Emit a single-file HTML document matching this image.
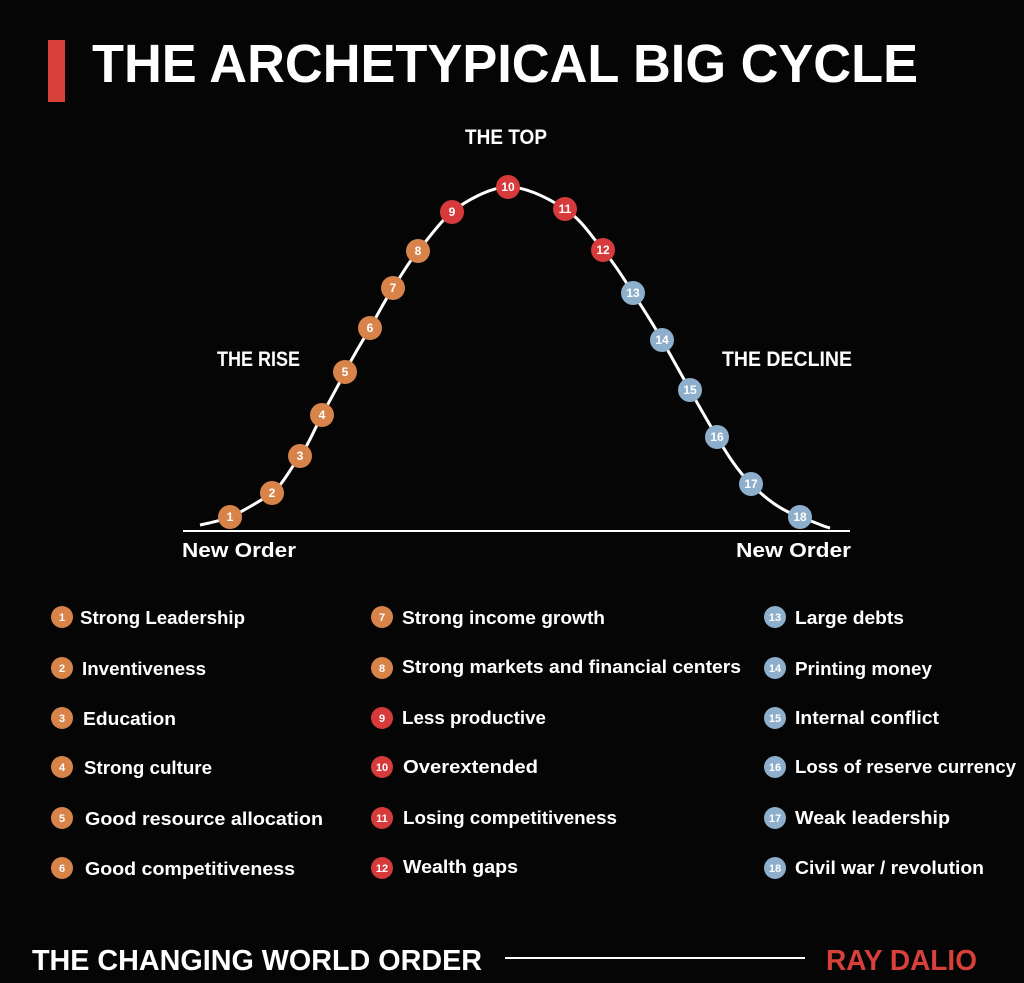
<!DOCTYPE html>
<html><head><meta charset="utf-8"><style>
html,body{margin:0;padding:0;background:#050505;}
svg{display:block;}
text{font-family:"Liberation Sans",sans-serif;}
</style></head><body>
<svg width="1024" height="983" viewBox="0 0 1024 983" xmlns="http://www.w3.org/2000/svg">
<rect width="1024" height="983" fill="#050505"/>
<rect x="48" y="40" width="17" height="62" fill="#d8403a"/>
<text x="92" y="82" font-size="54" font-weight="bold" fill="#fff" textLength="826" lengthAdjust="spacingAndGlyphs">THE ARCHETYPICAL BIG CYCLE</text>
<text x="506" y="144" font-size="21" font-weight="bold" fill="#fff" text-anchor="middle" textLength="82" lengthAdjust="spacingAndGlyphs">THE TOP</text>
<text x="217" y="366" font-size="21" font-weight="bold" fill="#fff" textLength="83" lengthAdjust="spacingAndGlyphs">THE RISE</text>
<text x="722" y="366" font-size="21" font-weight="bold" fill="#fff" textLength="130" lengthAdjust="spacingAndGlyphs">THE DECLINE</text>
<line x1="183" y1="531" x2="850" y2="531" stroke="#fff" stroke-width="2"/>
<text x="182" y="557" font-size="20" font-weight="bold" fill="#fff" textLength="114" lengthAdjust="spacingAndGlyphs">New Order</text>
<text x="736" y="557" font-size="20" font-weight="bold" fill="#fff" textLength="115" lengthAdjust="spacingAndGlyphs">New Order</text>
<path d="M200,525 C215,522 222,520 230,517 S262,500 272,493 S292,466 300,456 S315,428 322,415 S338,386 345,372 S362,342 370,328 S385,300 393,288 S408,263 418,251 S440,222 452,212 S490,187 508,187 S548,198 565,209 S592,237 603,250 S622,276 633,293 S652,322 662,340 S680,372 690,390 S707,420 717,437 S737,470 751,484 S780,510 800,517 S822,526 830,528" fill="none" stroke="#fff" stroke-width="3"/>
<g font-size="12" font-weight="bold" fill="#fff" text-anchor="middle">
<g fill="#d8834a">
<circle cx="230" cy="517" r="12"/><circle cx="272" cy="493" r="12"/><circle cx="300" cy="456" r="12"/><circle cx="322" cy="415" r="12"/><circle cx="345" cy="372" r="12"/><circle cx="370" cy="328" r="12"/><circle cx="393" cy="288" r="12"/><circle cx="418" cy="251" r="12"/>
</g>
<g fill="#d63a3a"><circle cx="452" cy="212" r="12"/><circle cx="508" cy="187" r="12"/><circle cx="565" cy="209" r="12"/><circle cx="603" cy="250" r="12"/></g>
<g fill="#8eafcb"><circle cx="633" cy="293" r="12"/><circle cx="662" cy="340" r="12"/><circle cx="690" cy="390" r="12"/><circle cx="717" cy="437" r="12"/><circle cx="751" cy="484" r="12"/><circle cx="800" cy="517" r="12"/></g>
<text x="230" y="521">1</text><text x="272" y="497">2</text><text x="300" y="460">3</text><text x="322" y="419">4</text><text x="345" y="376">5</text><text x="370" y="332">6</text><text x="393" y="292">7</text><text x="418" y="255">8</text><text x="452" y="216">9</text><text x="508" y="191">10</text><text x="565" y="213">11</text><text x="603" y="254">12</text><text x="633" y="297">13</text><text x="662" y="344">14</text><text x="690" y="394">15</text><text x="717" y="441">16</text><text x="751" y="488">17</text><text x="800" y="521">18</text>
</g>
<g font-size="11" font-weight="bold" fill="#fff" text-anchor="middle">
<g fill="#d8834a"><circle cx="62" cy="617" r="11"/><circle cx="62" cy="668" r="11"/><circle cx="62" cy="718" r="11"/><circle cx="62" cy="767" r="11"/><circle cx="62" cy="818" r="11"/><circle cx="62" cy="868" r="11"/><circle cx="382" cy="617" r="11"/><circle cx="382" cy="668" r="11"/></g>
<g fill="#d63a3a"><circle cx="382" cy="718" r="11"/><circle cx="382" cy="767" r="11"/><circle cx="382" cy="818" r="11"/><circle cx="382" cy="868" r="11"/></g>
<g fill="#8eafcb"><circle cx="775" cy="617" r="11"/><circle cx="775" cy="668" r="11"/><circle cx="775" cy="718" r="11"/><circle cx="775" cy="767" r="11"/><circle cx="775" cy="818" r="11"/><circle cx="775" cy="868" r="11"/></g>
<text x="62" y="621">1</text><text x="62" y="672">2</text><text x="62" y="722">3</text><text x="62" y="771">4</text><text x="62" y="822">5</text><text x="62" y="872">6</text>
<text x="382" y="621">7</text><text x="382" y="672">8</text><text x="382" y="722">9</text><text x="382" y="771">10</text><text x="382" y="822">11</text><text x="382" y="872">12</text>
<text x="775" y="621">13</text><text x="775" y="672">14</text><text x="775" y="722">15</text><text x="775" y="771">16</text><text x="775" y="822">17</text><text x="775" y="872">18</text>
</g>
<g font-size="18" font-weight="bold" fill="#fff" lengthAdjust="spacingAndGlyphs">
<text x="80" y="624" textLength="165" lengthAdjust="spacingAndGlyphs">Strong Leadership</text>
<text x="82" y="675" textLength="124" lengthAdjust="spacingAndGlyphs">Inventiveness</text>
<text x="83" y="725" textLength="93" lengthAdjust="spacingAndGlyphs">Education</text>
<text x="84" y="774" textLength="128" lengthAdjust="spacingAndGlyphs">Strong culture</text>
<text x="85" y="825" textLength="238" lengthAdjust="spacingAndGlyphs">Good resource allocation</text>
<text x="85" y="875" textLength="210" lengthAdjust="spacingAndGlyphs">Good competitiveness</text>
<text x="402" y="624" textLength="203" lengthAdjust="spacingAndGlyphs">Strong income growth</text>
<text x="402" y="673" textLength="339" lengthAdjust="spacingAndGlyphs">Strong markets and financial centers</text>
<text x="402" y="724" textLength="144" lengthAdjust="spacingAndGlyphs">Less productive</text>
<text x="403" y="773" textLength="135" lengthAdjust="spacingAndGlyphs">Overextended</text>
<text x="403" y="824" textLength="214" lengthAdjust="spacingAndGlyphs">Losing competitiveness</text>
<text x="403" y="873" textLength="115" lengthAdjust="spacingAndGlyphs">Wealth gaps</text>
<text x="795" y="624" textLength="109" lengthAdjust="spacingAndGlyphs">Large debts</text>
<text x="795" y="675" textLength="137" lengthAdjust="spacingAndGlyphs">Printing money</text>
<text x="795" y="724" textLength="144" lengthAdjust="spacingAndGlyphs">Internal conflict</text>
<text x="795" y="773" textLength="221" lengthAdjust="spacingAndGlyphs">Loss of reserve currency</text>
<text x="795" y="824" textLength="155" lengthAdjust="spacingAndGlyphs">Weak leadership</text>
<text x="795" y="874" textLength="189" lengthAdjust="spacingAndGlyphs">Civil war / revolution</text>
</g>
<text x="32" y="970" font-size="29" font-weight="bold" fill="#fff" textLength="450" lengthAdjust="spacingAndGlyphs">THE CHANGING WORLD ORDER</text>
<line x1="505" y1="958" x2="805" y2="958" stroke="#fff" stroke-width="2"/>
<text x="826" y="970" font-size="29" font-weight="bold" fill="#d8403a" textLength="151" lengthAdjust="spacingAndGlyphs">RAY DALIO</text>
</svg>
</body></html>
